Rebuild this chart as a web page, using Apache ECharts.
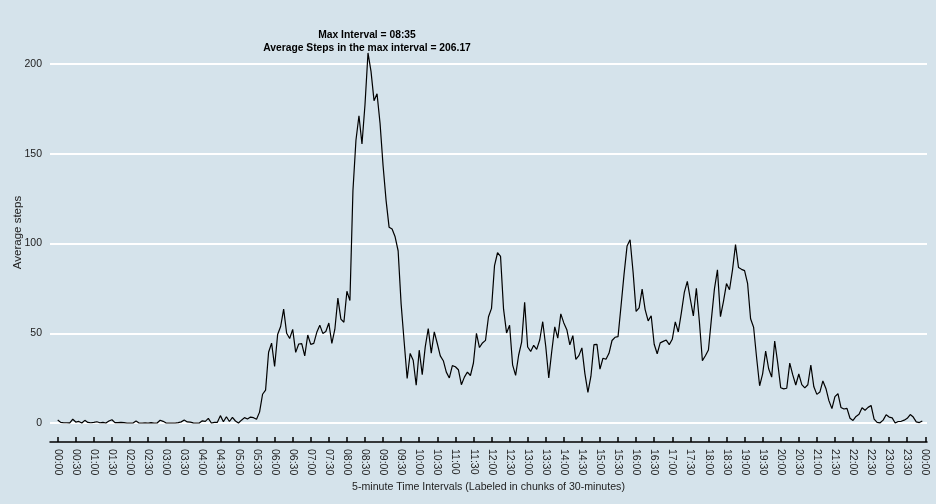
<!DOCTYPE html>
<html>
<head>
<meta charset="utf-8">
<script src="https://cdn.jsdelivr.net/npm/echarts@6/dist/echarts.min.js"></script>
<style>html,body{margin:0;padding:0;background:#d5e3eb;}#c{width:936px;height:504px;}</style>
</head>
<body>
<div id="c"></div>
<script>
// Average steps for each 5-minute interval (00:00 .. 23:55)
const avgSteps = [
1.72,0.34,0.13,0.15,0.08,2.09,0.53,0.87,0.00,1.47,0.30,0.13,
0.32,0.68,0.15,0.34,0.00,1.11,1.83,0.17,0.17,0.38,0.26,0.00,
0.00,0.00,1.13,0.00,0.00,0.13,0.00,0.23,0.00,0.00,1.55,0.94,
0.00,0.00,0.00,0.00,0.21,0.62,1.62,0.58,0.49,0.08,0.00,0.00,
1.19,0.94,2.57,0.00,0.34,0.36,4.11,0.66,3.49,0.83,3.11,1.11,
0.00,1.57,3.00,2.25,3.32,2.96,2.09,6.06,16.02,18.34,39.45,44.49,
31.49,49.26,53.77,63.45,49.96,47.08,52.15,39.34,44.02,44.17,37.36,49.04,
43.81,44.38,50.51,54.51,49.92,50.98,55.68,44.32,52.26,69.55,57.85,56.15,
73.38,68.21,129.43,157.53,171.15,155.40,177.30,206.17,195.92,179.57,183.40,167.02,
143.45,124.04,109.11,108.11,103.72,95.96,66.21,45.23,24.79,38.75,34.98,21.06,
40.57,26.98,42.42,52.66,38.92,50.79,44.28,37.42,34.70,28.34,25.09,31.94,
31.36,29.68,21.32,25.55,28.38,26.47,33.43,49.98,42.04,44.60,46.04,59.19,
63.87,87.70,94.85,92.77,63.40,50.17,54.47,32.42,26.53,37.74,45.06,67.28,
42.34,39.89,43.26,40.98,46.25,56.43,42.75,25.13,39.96,53.55,47.32,60.81,
55.75,51.96,43.58,48.70,35.47,37.55,41.85,27.51,17.11,26.08,43.62,43.77,
30.02,36.08,35.49,38.85,45.96,47.75,48.13,65.32,82.91,98.66,102.11,83.96,
62.13,64.13,74.55,63.17,56.91,59.77,43.87,38.57,44.66,45.45,46.21,43.68,
46.62,56.30,50.72,61.23,72.72,78.94,68.94,59.66,75.09,56.51,34.77,37.45,
40.68,58.02,74.70,85.32,59.26,67.77,77.70,74.25,85.34,99.45,86.58,85.60,
84.87,77.83,58.04,53.36,36.32,20.72,27.40,40.02,30.21,25.55,45.66,33.53,
19.62,19.02,19.34,33.34,26.81,21.17,27.30,21.34,19.55,21.32,32.30,20.15,
15.94,17.23,23.45,19.25,12.45,8.02,14.66,16.30,8.68,7.79,8.13,2.62,
1.45,3.68,4.81,8.51,7.08,8.70,9.75,2.21,0.32,0.11,1.60,4.60,
3.30,2.85,0.00,0.83,0.96,1.58,2.60,4.70,3.30,0.64,0.23,1.08
];
const intervalStep = 5; // minutes per interval
const labelStep = 30;   // label every 30 minutes
const dayMinutes = 1440;

const fmt = m => {
  const mm = ((m % dayMinutes) + dayMinutes) % dayMinutes;
  const h = Math.floor(mm / 60), mi = mm % 60;
  return String(h).padStart(2, '0') + ':' + String(mi).padStart(2, '0');
};
const seriesData = avgSteps.map((v, i) => [i * intervalStep, v]);
const labelValues = [];
for (let m = 0; m <= dayMinutes; m += labelStep) labelValues.push(m);

let maxIdx = 0;
avgSteps.forEach((v, i) => { if (v > avgSteps[maxIdx]) maxIdx = i; });

const chart = echarts.init(document.getElementById('c'));
chart.setOption({
  backgroundColor: '#d5e3eb',
  animation: false,
  textStyle: { fontFamily: 'Liberation Sans, Arial, sans-serif' },
  grid: { left: 50, right: 9, top: 64, bottom: 81, containLabel: false, outerBoundsMode: 'none' },
  xAxis: {
    type: 'value',
    min: -12.8,
    max: 1442.8,
    offset: 19,
    name: '5-minute Time Intervals (Labeled in chunks of 30-minutes)',
    nameLocation: 'middle',
    nameGap: 40,
    nameMoveOverlap: false,
    nameTextStyle: { fontSize: 10.6, color: '#222' },
    axisLine: { show: true, onZero: false, lineStyle: { color: '#000', width: 1.5 } },
    axisTick: { show: true, inside: true, length: 5, customValues: labelValues, lineStyle: { color: '#000', width: 1.5 } },
    axisLabel: {
      customValues: labelValues,
      rotate: -90,
      margin: 7,
      fontSize: 10.5,
      color: '#222',
      formatter: v => fmt(v)
    },
    splitLine: { show: false }
  },
  yAxis: {
    type: 'value',
    min: 0,
    max: 200,
    interval: 50,
    name: 'Average steps',
    nameLocation: 'middle',
    nameGap: 26,
    nameMoveOverlap: false,
    nameRotate: 90,
    nameTextStyle: { fontSize: 11.5, color: '#222', padding: [0, 0, 0, 22] },
    axisLine: { show: false },
    axisTick: { show: false },
    axisLabel: { fontSize: 10.5, color: '#222', margin: 8 },
    splitLine: { show: true, lineStyle: { color: '#ffffff', width: 2 } }
  },
  series: [{
    type: 'line',
    data: seriesData,
    clip: false,
    showSymbol: false,
    symbol: 'none',
    lineStyle: { color: '#000', width: 1.2 }
  }]
});

// Annotation above the maximum point, positioned through the chart's own scales
const peak = chart.convertToPixel({ gridIndex: 0 }, seriesData[maxIdx]);
chart.setOption({
  graphic: [{
    type: 'text',
    x: peak[0] - 1,
    y: peak[1] + 2,
    style: {
      text: 'Max Interval = ' + fmt(maxIdx * intervalStep) + '\nAverage Steps in the max interval = ' + avgSteps[maxIdx].toFixed(2),
      align: 'center',
      verticalAlign: 'bottom',
      fontSize: 10.3,
      fontWeight: 'bold',
      lineHeight: 13.5,
      fill: '#000',
      fontFamily: 'Liberation Sans, Arial, sans-serif'
    }
  }]
});
</script>
</body>
</html>
